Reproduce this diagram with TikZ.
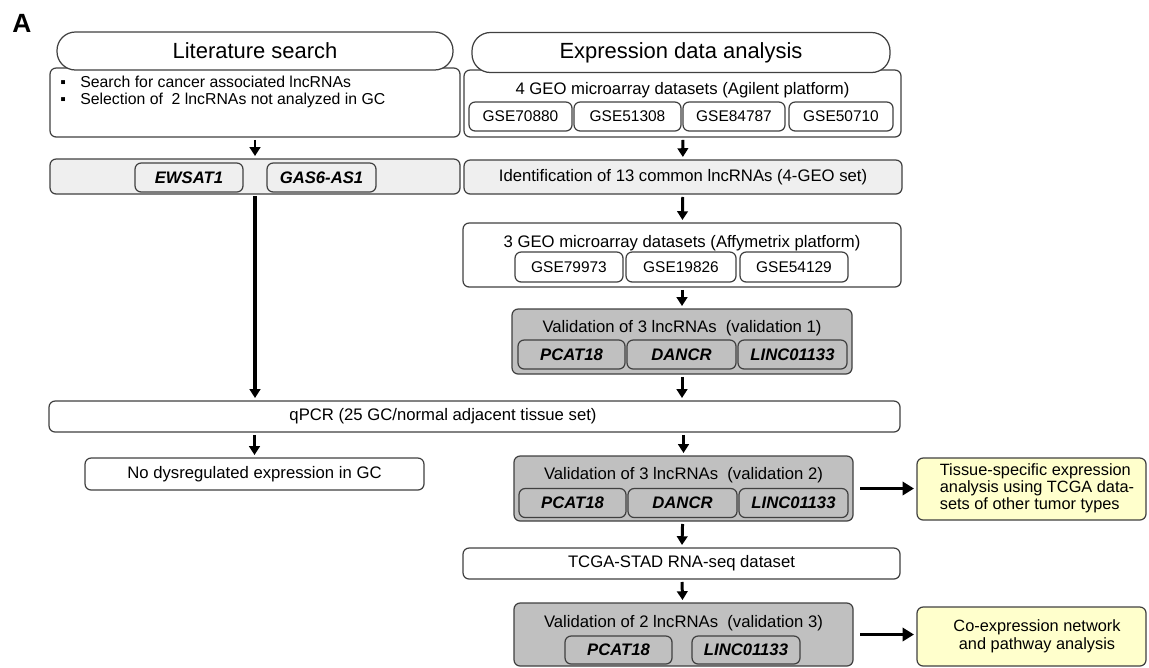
\documentclass[tikz,border=0pt]{standalone}
\usepackage{fontspec}
\setmainfont{Liberation Sans}
\usetikzlibrary{arrows.meta}

\newlength{\pxu}
\setlength{\pxu}{0.02cm}
\definecolor{edgegray}{HTML}{404040}
\definecolor{rowgray}{HTML}{EFEFEF}
\definecolor{valgray}{HTML}{C0C0C0}
\definecolor{noteyellow}{HTML}{FFFFCC}

\begin{document}
\begin{tikzpicture}[x=0.02cm,y=-0.02cm,>={Triangle[width=6pt,length=5pt]},
	sz/.style 2 args={minimum width=#1*\pxu,minimum height=#2*\pxu},
	box/.style={draw=edgegray,line width=0.7pt,rounded corners=3.5pt,inner sep=0pt,outer sep=0pt,fill=white},
	head/.style={box,rounded corners=10.5pt,font=\fontsize{12.5}{14}\selectfont},
	rowbox/.style={box,fill=rowgray},
	valbox/.style={box,fill=valgray},
	notebox/.style={box,fill=noteyellow},
	txt/.style={inner sep=0pt,font=\fontsize{9.5}{11}\selectfont},
	gse/.style={box,font=\fontsize{8.8}{10}\selectfont},
	gene/.style={box,font=\fontsize{9.5}{11}\selectfont\bfseries\itshape},
	flow/.style={->,line width=1.7pt,shorten <=1.7pt,shorten >=1.7pt},
	side/.style={-{Triangle[width=7.5pt,length=6.5pt]},line width=2.2pt,shorten <=4pt,shorten >=1.7pt}]

\useasboundingbox (0,0) rectangle (1149,667);
\node[font=\fontsize{15}{16}\selectfont\bfseries] (lab) at (22,23) {A};

% literature search column
\node[box,sz={410}{69}] (litbox) at (255,102.5) {};
\node[head,sz={396}{38}] (lit) at (255,51) {Literature search};
\node[inner sep=0pt,anchor=west,align=left,font=\fontsize{9}{9.7}\selectfont] (littxt) at (60,91.5)
	{\makebox[20\pxu][l]{▪}Search for cancer associated lncRNAs\\
	 \makebox[20\pxu][l]{▪}Selection of~ 2 lncRNAs not analyzed in GC};
\node[rowbox,sz={410}{35}] (litrow) at (255,176.5) {};
\node[gene,fill=rowgray,sz={108}{29}] (ewsat) at (189,177.5) {EWSAT1};
\node[gene,fill=rowgray,sz={109}{29}] (gas6) at (321.5,177.5) {GAS6-AS1};

% expression data analysis column
\node[box,sz={437}{67}] (geo4) at (682.5,103.5) {};
\node[head,sz={418}{40}] (expr) at (681,52.5) {Expression data analysis};
\node[txt] (geo4t) at (682.5,90) {4 GEO microarray datasets (Agilent platform)};
\node[gse,sz={103}{29}] (gseA) at (520.5,116.5) {GSE70880};
\node[gse,sz={107}{29}] (gseB) at (627.5,116.5) {GSE51308};
\node[gse,sz={102}{29}] (gseC) at (734,116.5) {GSE84787};
\node[gse,sz={104}{29}] (gseD) at (841,116.5) {GSE50710};
\node[rowbox,txt,sz={438}{34}] (ident) at (683,177) {Identification of 13 common lncRNAs (4-GEO set)};

\node[box,sz={438}{64}] (geo3) at (682,255) {};
\node[txt] (geo3t) at (682,243) {3 GEO microarray datasets (Affymetrix platform)};
\node[gse,sz={108}{30}] (gseE) at (569,267) {GSE79973};
\node[gse,sz={110}{30}] (gseF) at (681,267) {GSE19826};
\node[gse,sz={108}{30}] (gseG) at (794,267) {GSE54129};

\node[valbox,sz={340}{65}] (val1) at (682,341.5) {};
\node[txt] (val1t) at (682,328) {Validation of 3 lncRNAs~ (validation 1)};
\node[gene,fill=valgray,sz={107}{29}] (val1a) at (571.5,354.5) {PCAT18};
\node[gene,fill=valgray,sz={109}{29}] (val1b) at (681.5,354.5) {DANCR};
\node[gene,fill=valgray,sz={109}{29}] (val1c) at (792.5,354.5) {LINC01133};

% qPCR and below
\node[box,sz={851}{31}] (qpcr) at (474.5,416.5) {};
\node[txt] (qpcrt) at (443,416.5) {qPCR (25 GC/normal adjacent tissue set)};
\node[box,txt,sz={339}{32}] (nodys) at (254.5,474) {No dysregulated expression in GC};

\node[valbox,sz={339}{65}] (val2) at (683.5,488.5) {};
\node[txt] (val2t) at (683.5,475) {Validation of 3 lncRNAs~ (validation 2)};
\node[gene,fill=valgray,sz={107}{29}] (val2a) at (572.5,503) {PCAT18};
\node[gene,fill=valgray,sz={109}{29}] (val2b) at (682.5,503) {DANCR};
\node[gene,fill=valgray,sz={109}{29}] (val2c) at (793.5,503) {LINC01133};
\node[notebox,sz={229}{62}] (tissue) at (1031.5,489) {};
\node[txt,align=left,font=\fontsize{9.3}{9.6}\selectfont] (tissuet) at (1037,488.5)
	{Tissue-specific expression\\analysis using TCGA data-\\sets of other tumor types};

\node[box,txt,sz={437}{31}] (tcga) at (681.5,563.5) {TCGA-STAD RNA-seq dataset};

\node[valbox,sz={339}{63}] (val3) at (683.5,634.5) {};
\node[txt] (val3t) at (683.5,623) {Validation of 2 lncRNAs~ (validation 3)};
\node[gene,fill=valgray,sz={107}{28}] (val3a) at (618.5,650) {PCAT18};
\node[gene,fill=valgray,sz={108}{28}] (val3b) at (746,650) {LINC01133};
\node[notebox,sz={229}{59}] (coexp) at (1031.5,636.5) {};
\node[txt,align=center,font=\fontsize{9.3}{10.2}\selectfont] (coexpt) at (1037,636)
	{Co-expression network\\and pathway analysis};

% connectors
\draw[flow] (litbox) -- (litrow);
\draw[flow] (geo4) -- (ident);
\draw[flow] (ident) -- (geo3);
\draw[flow] (geo3) -- (val1);
\draw[flow] (val1.south) -- (val1.south |- qpcr.north);
\draw[flow,line width=2.2pt,shorten <=1pt] (litrow.south) -- (litrow.south |- qpcr.north);
\draw[flow] (nodys.north |- qpcr.south) -- (nodys.north);
\draw[flow] (val2.north |- qpcr.south) -- (val2.north);
\draw[flow] (val2) -- (tcga);
\draw[flow] (tcga) -- (val3);
\draw[side] (val2.east) -- (val2.east -| tissue.west);
\draw[side] (val3.east) -- (val3.east -| coexp.west);
\end{tikzpicture}
\end{document}
